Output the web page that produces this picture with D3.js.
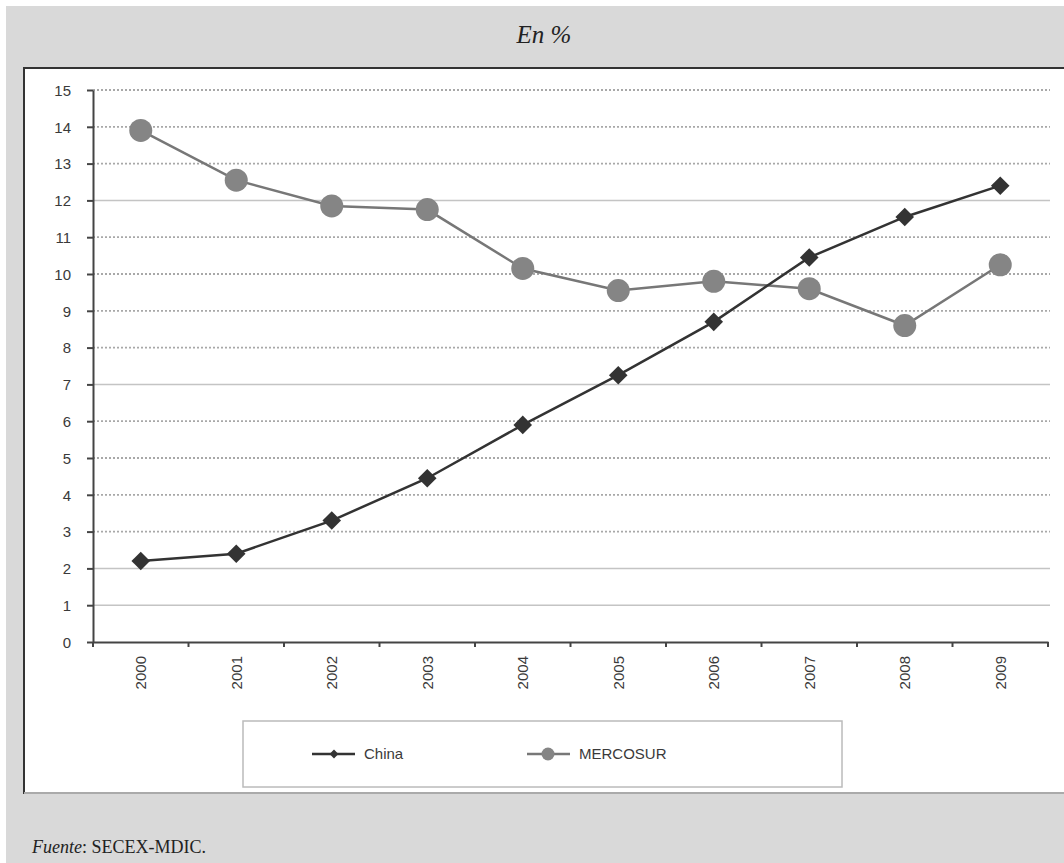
<!DOCTYPE html>
<html><head><meta charset="utf-8">
<script src="https://cdn.jsdelivr.net/npm/d3@7"></script>
<style>body{margin:0;background:#fff}svg{display:block}</style>
</head><body>
<script>
const years = ["2000","2001","2002","2003","2004","2005","2006","2007","2008","2009"];
const china = [2.2, 2.4, 3.3, 4.45, 5.9, 7.25, 8.7, 10.45, 11.55, 12.4];
const mercosur = [13.9, 12.55, 11.85, 11.75, 10.15, 9.55, 9.8, 9.6, 8.6, 10.25];
const yTicks = [0,1,2,3,4,5,6,7,8,9,10,11,12,13,14,15];
const solidGrid = [12, 7, 2, 1];

const W = 1064, H = 863;
const svg = d3.select("body").append("svg").attr("width", W).attr("height", H);

svg.append("rect").attr("x",6).attr("y",6).attr("width",W-6).attr("height",H-6).attr("fill","#d9d9d9");
svg.append("rect").attr("x",24).attr("y",68).attr("width",W-24+5).attr("height",725)
  .attr("fill","#fff").attr("stroke","#333").attr("stroke-width",2);
svg.append("line").attr("x1",24).attr("x2",W).attr("y1",793).attr("y2",793).attr("stroke","#aaa").attr("stroke-width",2);

svg.append("text").attr("x",544).attr("y",43).attr("text-anchor","middle")
  .attr("font-family","Liberation Serif, serif").attr("font-style","italic").attr("font-size",25)
  .attr("fill","#222").text("En %");

const ft = svg.append("text").attr("x",32).attr("y",853)
  .attr("font-family","Liberation Serif, serif").attr("font-size",18).attr("fill","#222");
ft.append("tspan").attr("font-style","italic").text("Fuente");
ft.append("tspan").text(": SECEX-MDIC.");

const x0 = 93, x1 = 1048, yTop = 90, yBot = 642;
const x = d3.scaleBand().domain(years).range([x0, x1]);
const y = d3.scaleLinear().domain([0,15]).range([yBot, yTop]);

const fontSans = "Liberation Sans, Arial, sans-serif";

// gridlines
const g = svg.append("g");
g.selectAll("line.grid").data(yTicks.filter(d=>d>0)).enter().append("line")
  .attr("x1",x0).attr("x2",1050).attr("y1",d=>y(d)).attr("y2",d=>y(d))
  .attr("stroke", d=>solidGrid.includes(d)?"#c4c4c4":"#a8a8a8")
  .attr("stroke-width", d=>solidGrid.includes(d)?1.5:1.8)
  .attr("stroke-dasharray", d=>solidGrid.includes(d)?null:"2,2");

// y axis
const ya = svg.append("g").attr("transform",`translate(${x0},0)`)
  .call(d3.axisLeft(y).tickValues(yTicks).tickSize(6).tickSizeOuter(0));
ya.select(".domain").attr("stroke","#444").attr("stroke-width",2);
ya.selectAll(".tick line").attr("stroke","#444").attr("stroke-width",2);
ya.selectAll("text").attr("font-family",fontSans).attr("font-size",15)
  .attr("fill","#3a3a3a").attr("x",-22).attr("dy","0.35em");

// x axis
const xa = svg.append("g").attr("transform",`translate(0,${yBot})`)
  .call(d3.axisBottom(x).tickSize(0));
xa.select(".domain").attr("stroke","#444").attr("stroke-width",2);
xa.selectAll(".tick text").attr("font-family",fontSans).attr("font-size",15)
  .attr("fill","#3a3a3a").attr("transform","rotate(-90)").attr("text-anchor","end")
  .attr("x",-14).attr("y",0).attr("dy","0.35em");
// boundary ticks
const bounds = years.map(d=>x(d)).concat([x1]);
svg.append("g").selectAll("line").data(bounds).enter().append("line")
  .attr("x1",d=>d).attr("x2",d=>d).attr("y1",yBot).attr("y2",yBot+5)
  .attr("stroke","#444").attr("stroke-width",2);

const cx = d => x(d) + x.bandwidth()/2;
const line = d3.line().x((d,i)=>cx(years[i])).y(d=>y(d));

svg.append("path").datum(mercosur).attr("d",line).attr("fill","none")
  .attr("stroke","#777").attr("stroke-width",2.5);
svg.append("g").selectAll("circle").data(mercosur).enter().append("circle")
  .attr("cx",(d,i)=>cx(years[i])).attr("cy",d=>y(d)).attr("r",11.5).attr("fill","#858585");

svg.append("path").datum(china).attr("d",line).attr("fill","none")
  .attr("stroke","#333").attr("stroke-width",2.5);
const diamond = d3.symbol().type(d3.symbolDiamond2).size(220);
svg.append("g").selectAll("path").data(china).enter().append("path")
  .attr("d",diamond).attr("transform",(d,i)=>`translate(${cx(years[i])},${y(d)})`).attr("fill","#333");

// legend
svg.append("rect").attr("x",243).attr("y",721).attr("width",599).attr("height",66)
  .attr("fill","#fff").attr("stroke","#bbb").attr("stroke-width",1.5);
const lg1 = svg.append("g");
lg1.append("line").attr("x1",312).attr("x2",355).attr("y1",754).attr("y2",754).attr("stroke","#333").attr("stroke-width",2.5);
lg1.append("path").attr("d",d3.symbol().type(d3.symbolDiamond2).size(50)).attr("transform","translate(334,754)").attr("fill","#333");
lg1.append("text").attr("x",364).attr("y",754).attr("dy","0.35em").attr("font-family",fontSans)
  .attr("font-size",15).attr("fill","#3a3a3a").text("China");
const lg2 = svg.append("g");
lg2.append("line").attr("x1",527).attr("x2",570).attr("y1",754).attr("y2",754).attr("stroke","#777").attr("stroke-width",2.5);
lg2.append("circle").attr("cx",548).attr("cy",754).attr("r",6.5).attr("fill","#858585");
lg2.append("text").attr("x",579).attr("y",754).attr("dy","0.35em").attr("font-family",fontSans)
  .attr("font-size",15).attr("fill","#3a3a3a").text("MERCOSUR");
</script>
</body></html>
